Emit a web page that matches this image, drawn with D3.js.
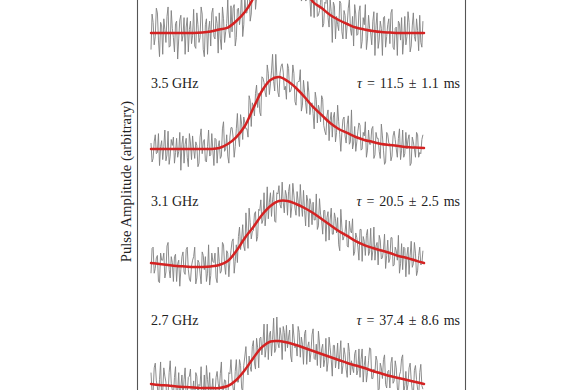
<!DOCTYPE html>
<html><head><meta charset="utf-8">
<script src="https://cdn.jsdelivr.net/npm/d3@7"></script>
<style>html,body{margin:0;padding:0;background:#fff;}svg{display:block;}</style>
</head><body>
<script>
// ---- data ----
const frequencies = ["2.7 GHz", "3.1 GHz", "3.5 GHz", ""];
const tauValues = ["37.4", "20.5", "11.5", ""];
const tauErrors = ["8.6", "2.5", "1.1", ""];
const offsets = [0, 1, 2, 3];

// pulse profiles, 256 phase bins each (half-bin steps)
const data27 = [
0.13,-0.04,-0.03,0.17,0.21,0.06,0.01,-0.09,0.07,0.22,-0.10,-0.03,0.17,0.10,0.05,-0.14,-0.06,0.13,0.23,0.04,-0.02,-0.07,0.09,0.18,-0.13,-0.02,0.13,-0.12,0.01,0.11,-0.08,0.07,
0.17,-0.10,-0.04,0.09,0.10,0.16,-0.11,-0.03,0.06,-0.14,0.13,0.10,-0.07,0.03,0.02,0.18,-0.15,-0.06,0.11,-0.12,0.19,0.07,-0.03,0.13,-0.10,-0.02,0.08,-0.16,-0.06,0.09,0.14,0.04,
-0.02,0.12,0.22,-0.08,0.00,0.07,0.06,-0.14,-0.11,0.13,0.12,0.24,0.07,0.00,-0.06,0.14,0.24,0.05,0.05,0.24,0.19,0.00,-0.03,0.19,0.27,0.35,0.17,0.11,0.27,0.18,0.14,0.35,
0.40,0.21,0.16,0.42,0.34,0.17,0.42,0.43,0.28,0.38,0.54,0.26,0.34,0.54,0.24,0.45,0.48,0.27,0.41,0.59,0.30,0.33,0.60,0.38,0.34,0.51,0.44,0.24,0.52,0.47,0.31,0.53,
0.34,0.43,0.49,0.27,0.22,0.54,0.44,0.34,0.37,0.27,0.52,0.47,0.26,0.43,0.37,0.20,0.46,0.49,0.20,0.35,0.39,0.22,0.30,0.45,0.50,0.25,0.24,0.37,0.19,0.48,0.38,0.17,
0.33,0.37,0.18,0.24,0.42,0.14,0.22,0.43,0.34,0.24,0.10,0.36,0.36,0.17,0.25,0.38,0.16,0.28,0.40,0.12,0.19,0.34,0.28,0.16,0.09,0.38,0.31,0.11,0.23,0.17,0.13,0.29,
0.32,0.11,0.15,0.33,0.09,0.24,0.33,0.05,0.19,0.27,0.05,0.13,0.23,0.34,0.33,0.08,0.08,0.16,0.13,0.27,0.23,-0.02,-0.01,0.21,0.17,0.08,0.24,0.28,0.03,0.00,0.14,0.15,
0.00,0.21,0.26,0.04,0.06,0.23,0.17,0.00,-0.05,0.11,0.14,0.25,0.28,-0.05,0.02,0.14,-0.02,0.03,0.17,0.21,0.07,-0.02,-0.07,0.15,0.19,0.07,-0.01,-0.09,0.13,0.20,0.02,-0.01];

const data31 = [
-0.03,0.18,0.19,-0.03,0.01,0.10,0.12,-0.10,-0.11,0.14,0.08,0.08,0.14,-0.07,-0.02,0.20,0.23,0.00,-0.07,0.11,0.06,-0.10,0.11,0.13,-0.10,0.05,0.08,-0.14,0.00,0.11,0.15,-0.02,
-0.04,0.17,0.19,0.00,-0.08,-0.10,0.03,0.08,0.11,0.19,-0.12,-0.07,0.08,0.06,-0.03,-0.12,0.15,0.12,0.00,0.11,-0.10,-0.03,0.21,-0.13,-0.05,0.14,0.07,0.06,0.14,-0.07,-0.11,0.19,
0.07,-0.03,-0.01,0.23,0.21,0.04,-0.04,0.16,0.14,-0.06,0.08,0.16,0.24,0.26,-0.03,0.07,0.21,0.06,0.28,0.36,0.17,0.26,0.38,0.20,0.16,0.48,0.31,0.18,0.52,0.40,0.26,0.32,
0.33,0.47,0.49,0.24,0.28,0.51,0.50,0.59,0.39,0.42,0.65,0.37,0.48,0.70,0.43,0.57,0.65,0.45,0.59,0.67,0.41,0.40,0.65,0.64,0.71,0.55,0.52,0.74,0.57,0.48,0.67,0.63,
0.46,0.66,0.72,0.44,0.53,0.73,0.63,0.52,0.46,0.66,0.58,0.45,0.72,0.55,0.45,0.67,0.50,0.37,0.63,0.58,0.36,0.60,0.55,0.38,0.57,0.42,0.42,0.64,0.34,0.37,0.60,0.47,
0.42,0.30,0.50,0.50,0.24,0.44,0.49,0.25,0.42,0.52,0.30,0.30,0.48,0.43,0.31,0.44,0.21,0.16,0.51,0.36,0.25,0.28,0.32,0.42,0.20,0.19,0.41,0.33,0.31,0.43,0.12,0.15,
0.31,0.27,0.19,0.08,0.34,0.34,0.07,0.28,0.24,0.12,0.29,0.34,0.12,0.15,0.35,0.08,0.16,0.36,0.08,0.20,0.23,0.04,0.29,0.25,0.09,0.10,0.17,0.30,0.01,0.12,0.25,0.06,
0.09,0.27,0.27,0.03,0.04,0.19,0.16,0.08,0.29,-0.03,0.05,0.22,0.00,0.19,0.18,-0.06,0.12,0.19,-0.04,0.12,0.24,0.02,0.05,0.23,0.14,-0.05,-0.01,0.12,0.19,0.04,0.05,0.16];

const data35 = [
0.07,-0.09,-0.06,0.08,0.14,-0.02,-0.01,0.15,-0.12,0.04,0.09,-0.07,0.04,0.18,-0.08,-0.03,0.17,-0.11,-0.04,0.10,0.05,0.12,-0.10,-0.01,0.11,-0.05,0.00,0.16,-0.16,0.06,0.13,-0.10,
0.06,0.11,-0.05,-0.13,0.15,0.07,-0.07,0.13,0.02,-0.06,0.08,0.05,-0.13,-0.10,0.12,0.19,-0.02,0.08,0.10,-0.08,-0.09,0.04,0.18,-0.04,-0.03,0.15,0.01,-0.12,0.11,0.10,-0.10,0.04,
0.09,-0.06,-0.04,0.19,0.25,0.00,0.02,0.14,-0.04,-0.10,0.12,0.20,0.20,0.12,-0.05,0.04,0.19,0.32,0.12,0.04,0.31,0.23,0.10,0.29,0.24,0.19,0.19,0.12,0.47,0.43,0.21,0.41,
0.38,0.30,0.49,0.56,0.37,0.49,0.33,0.30,0.63,0.62,0.58,0.50,0.46,0.73,0.66,0.48,0.57,0.68,0.82,0.59,0.51,0.82,0.64,0.50,0.46,0.66,0.72,0.74,0.67,0.52,0.55,0.44,
0.74,0.70,0.50,0.51,0.55,0.73,0.66,0.42,0.39,0.58,0.59,0.59,0.69,0.34,0.39,0.60,0.50,0.41,0.32,0.59,0.50,0.31,0.39,0.41,0.32,0.19,0.50,0.44,0.24,0.39,0.35,0.25,
0.47,0.44,0.22,0.17,0.14,0.30,0.35,0.09,0.26,0.33,0.12,0.29,0.33,0.08,0.16,0.39,0.25,0.14,0.00,0.16,0.27,0.29,0.13,0.07,0.23,0.30,0.06,0.08,0.35,0.02,0.07,0.21,
0.00,0.08,0.17,0.24,0.22,0.01,0.02,0.16,0.13,0.25,-0.05,0.01,0.18,0.06,0.06,0.19,0.21,-0.06,-0.03,0.16,0.11,0.11,0.00,-0.06,0.23,0.13,0.01,-0.11,-0.09,0.16,0.14,0.07,
0.06,-0.08,-0.04,0.13,0.17,0.10,0.02,-0.05,0.11,0.19,-0.07,0.01,0.18,-0.05,-0.02,0.16,0.02,0.10,0.14,-0.12,-0.10,0.12,0.08,0.02,-0.05,0.16,0.14,-0.05,-0.01,-0.02,0.10,0.14];

const dataTop = [
-0.14,0.16,0.09,-0.10,-0.03,0.21,0.17,-0.06,-0.20,0.09,0.06,-0.18,0.12,0.03,-0.08,0.14,0.22,-0.12,-0.11,0.19,0.04,-0.04,-0.16,0.08,0.10,-0.22,-0.05,0.11,0.15,-0.07,-0.02,0.13,
-0.18,0.05,0.13,-0.16,0.03,0.10,-0.09,-0.02,0.20,-0.11,-0.13,0.17,0.07,-0.08,-0.04,0.22,0.16,-0.14,-0.20,0.07,0.12,-0.18,0.03,0.10,-0.11,0.17,0.21,-0.03,-0.05,0.14,0.08,-0.17,
0.17,-0.05,-0.14,0.22,0.12,-0.08,0.01,0.08,0.28,0.02,-0.04,0.23,0.01,0.21,0.24,-0.11,-0.04,0.20,0.21,0.07,0.15,0.36,-0.03,0.07,0.30,0.17,0.17,0.36,0.42,0.10,0.16,0.35,
0.36,0.52,0.20,0.30,0.60,0.29,0.36,0.58,0.52,0.69,0.66,0.46,0.38,0.65,0.72,0.48,0.61,0.81,0.84,0.65,0.57,0.80,0.74,0.93,0.96,0.60,0.61,0.64,0.67,0.85,0.79,0.53,
0.50,0.73,0.71,0.41,0.74,0.64,0.50,0.70,0.34,0.47,0.60,0.60,0.49,0.27,0.29,0.48,0.58,0.27,0.28,0.52,0.41,0.29,0.14,0.39,0.31,0.13,0.41,0.44,0.14,0.15,0.19,0.26,
0.39,0.05,0.08,0.26,0.25,0.37,0.13,0.05,0.28,0.18,-0.08,0.26,0.23,-0.05,0.14,0.07,0.02,0.27,0.25,0.01,-0.05,0.19,0.15,-0.05,0.07,0.21,0.28,0.04,-0.02,0.14,-0.11,0.24,
0.16,-0.02,-0.01,0.18,0.23,-0.13,-0.07,0.13,0.07,0.24,-0.14,-0.05,0.15,0.04,0.00,-0.10,0.10,0.18,-0.19,0.06,0.17,-0.13,-0.06,0.10,0.04,-0.19,0.13,0.14,-0.12,-0.03,0.07,0.12,
-0.09,0.17,0.20,-0.12,-0.14,0.04,0.05,-0.19,0.10,0.08,-0.06,0.13,-0.18,-0.05,0.14,-0.10,-0.03,0.18,0.09,-0.16,-0.11,0.06,0.17,-0.03,-0.07,0.12,0.02,-0.15,0.15,-0.08,-0.12,0.10];

// fitted scattering profiles, sampled every 8 half-bins (0..256)
const fit27 = [0.034,0.025,0.021,0.013,0.008,0.004,0,0,0,0.017,0.068,0.152,0.254,0.346,0.393,0.397,0.384,0.363,0.338,0.313,0.287,0.262,0.237,0.211,0.190,0.169,0.144,0.123,0.101,0.085,0.068,0.051,0.034];
const fit31 = [0.056,0.048,0.039,0.031,0.027,0.023,0.023,0.027,0.039,0.073,0.158,0.268,0.361,0.462,0.538,0.580,0.580,0.555,0.521,0.479,0.428,0.378,0.327,0.285,0.242,0.208,0.183,0.162,0.141,0.116,0.099,0.077,0.056];
const fit35 = [0.02,0.02,0.02,0.02,0.02,0.02,0.02,0.02,0.028,0.062,0.121,0.214,0.366,0.510,0.603,0.628,0.594,0.535,0.459,0.375,0.307,0.239,0.189,0.155,0.121,0.096,0.079,0.062,0.053,0.045,0.036,0.032,0.028];
const fitTop = [0,0,0,0,0,0,0.004,0.013,0.030,0.046,0.101,0.177,0.296,0.490,0.659,0.718,0.659,0.532,0.380,0.262,0.211,0.152,0.110,0.076,0.046,0.030,0.017,0.008,0.004,0,0,0,0];

const yLabel = "Pulse Amplitude (arbitrary)";

// ---- drawing ----
const W = 585, H = 390;
const svg = d3.select("body").append("svg").attr("width", W).attr("height", H);

const x = d3.scaleLinear().domain([0, 256]).range([151, 424]);
const y = d3.scaleLinear().domain([0, 3]).range([388, 33]);

const allData = [data27, data31, data35, dataTop];
const allFits = [fit27, fit31, fit35, fitTop];

// frame
svg.append("rect").attr("x", 137.5).attr("y", -10).attr("width", 328).attr("height", H + 20)
  .attr("fill", "none").attr("stroke", "#555").attr("stroke-width", 1.1);

const lineData = (off) => d3.line().x((d, i) => x(i)).y(d => y(d + off));
const lineFit = (off) => d3.line().x((d, i) => x(i * 8)).y(d => y(d + off)).curve(d3.curveCatmullRom);

allData.forEach((arr, k) => {
  svg.append("path").datum(arr).attr("d", lineData(offsets[k]))
    .attr("fill", "none").attr("stroke", "#808080").attr("stroke-width", 0.9)
    .attr("stroke-linejoin", "round");
});
allFits.forEach((arr, k) => {
  svg.append("path").datum(arr).attr("d", lineFit(offsets[k]))
    .attr("fill", "none").attr("stroke", "#d42222").attr("stroke-width", 2.5)
    .attr("stroke-linecap", "round");
});

const font = "'Liberation Serif', 'Times New Roman', serif";
frequencies.forEach((f, k) => {
  if (!f) return;
  const ty = y(offsets[k] + 0.535);
  svg.append("text").attr("x", 151).attr("y", ty).text(f)
    .attr("font-family", font).attr("font-size", 14).attr("fill", "#222");
  const t = svg.append("text").attr("x", 460).attr("y", ty).attr("text-anchor", "end")
    .attr("font-family", font).attr("font-size", 14).attr("fill", "#222")
    .attr("word-spacing", 1.4);
  t.append("tspan").attr("font-style", "italic").text("τ");
  t.append("tspan").text(" = " + tauValues[k] + " ± " + tauErrors[k] + " ms");
});

svg.append("text")
  .attr("transform", "translate(130.5," + 181.5 + ") rotate(-90)")
  .attr("text-anchor", "middle")
  .attr("font-family", font).attr("font-size", 14.7).attr("fill", "#222")
  .text(yLabel);
</script>
</body></html>
